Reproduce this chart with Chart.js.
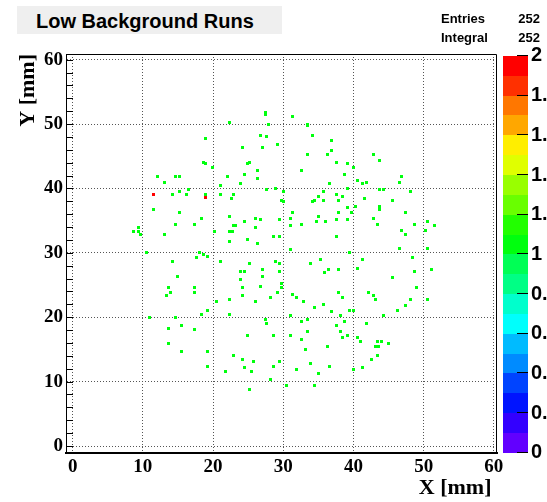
<!DOCTYPE html>
<html>
<head>
<meta charset="utf-8">
<script src="https://cdn.jsdelivr.net/npm/chart.js@4.4.1/dist/chart.umd.min.js"></script>
<style>
html,body{margin:0;padding:0;background:#fff;overflow:hidden;}
#wrap{position:relative;width:547px;height:502px;}
#c{position:absolute;left:0;top:0;}
.t{position:absolute;font-family:"Liberation Sans",Arial,sans-serif;font-weight:bold;color:#000;white-space:nowrap;}
#title{left:17px;top:6px;width:265px;height:28px;background:#efefef;font-size:20px;line-height:30px;text-indent:19px;}
.s{font-size:13px;line-height:13px;}
</style>
</head>
<body>
<div id="wrap">
<canvas id="c" width="547" height="502"></canvas>
<div id="title" class="t">Low Background Runs</div>
<div class="t s" style="left:441px;top:12px;">Entries</div>
<div class="t s" id="entries" style="right:7px;top:12px;"></div>
<div class="t s" style="left:441px;top:31px;">Integral</div>
<div class="t s" id="integral" style="right:7px;top:31px;"></div>
</div>
<script>
// ---- data: bins with one entry (X, Y in mm) ----
const cellX = [
 18.9,18.7,18.9,19.9,12.1,14.7,15.2,22.1,13.1,21.1,15.2,16.5,14.2,16.2,18.9,21.1,11.5,15.2,18.4,14.7,17.4,9.4,8.7,9.4,9.7,13.1,20.2,10.5,18.1,18.7,19.2,17.7,14.2,21.1,
 27.4,27.4,31.3,22.4,27.9,33.5,33.5,26.8,27.6,34.2,36.9,29.2,24.2,27.1,36.9,33.5,36.3,42.9,43.7,25.2,24.9,37.6,39.2,40.0,26.4,32.6,24.5,38.7,46.9,26.4,40.6,41.9,41.3,46.6,23.9,36.6,27.6,28.9,30.1,35.8,39.2,43.7,44.3,48.1,22.9,22.6,37.6,38.5,35.0,41.6,29.8,30.1,34.2,34.5,35.8,37.9,45.6,40.3,43.7,43.7,39.2,31.3,37.9,39.7,47.4,22.4,35.0,26.1,26.8,29.5,31.1,37.6,39.2,42.9,24.5,34.8,36.0,50.6,22.9,23.2,26.1,31.1,32.6,43.4,48.7,51.6,22.4,22.7,46.9,50.3,47.4,28.6,29.5,37.6,24.9,22.4,26.4,31.1,39.5,46.6,50.6,48.4,41.3,28.9,29.5,33.9,35.3,40.6,25.2,
 23.9,24.5,15.0,23.9,13.7,17.4,24.2,14.0,17.4,13.4,24.2,20.5,22.4,19.2,18.4,22.4,11.0,14.7,13.7,15.5,17.4,24.9,13.7,15.5,19.2,22.9,24.2,19.2,24.5,21.8,
 27.1,29.5,35.9,36.4,37.9,48.7,51.1,27.1,26.8,29.8,29.8,45.6,49.0,29.2,37.9,42.2,42.9,31.3,28.2,31.9,38.5,43.2,48.1,50.6,26.1,32.9,35.8,47.4,34.5,36.9,39.5,40.0,46.3,27.4,27.6,31.1,33.5,38.2,44.3,32.6,38.7,41.9,37.6,28.6,31.1,33.5,38.2,38.5,39.2,40.6,41.0,43.4,44.0,45.0,32.6,43.2,43.5,36.3,33.2,43.4,25.8,42.6,29.5,28.6,33.9,36.6,31.9,25.5,35.0,40.0,41.3,28.2,30.5,34.5,25.2
];
const cellY = [
 47.8,44.1,43.8,43.2,41.9,41.9,41.9,41.9,41.0,40.4,39.5,39.8,39.1,39.1,39.1,39.1,36.7,36.3,35.4,34.4,34.4,33.9,33.3,33.3,32.9,32.9,33.3,30.1,30.1,29.8,29.5,29.2,28.6,28.6,
 51.5,51.8,51.1,50.2,50.0,49.7,50.0,48.3,48.1,48.3,47.4,46.9,46.3,46.4,45.9,45.3,45.3,45.3,44.4,44.1,43.8,44.1,43.8,43.2,42.8,42.8,42.2,42.2,41.9,41.6,41.3,41.0,40.7,41.0,40.7,40.7,39.8,40.0,39.5,39.5,40.0,39.8,39.8,39.5,39.1,38.5,39.1,38.8,38.8,38.5,38.2,37.9,37.9,38.2,38.2,38.2,38.2,37.2,37.2,36.7,37.0,36.3,36.3,36.3,36.3,35.7,35.7,35.4,35.1,35.1,35.4,35.1,35.1,35.4,34.8,34.8,34.8,34.8,34.2,34.2,33.9,34.2,34.4,34.4,34.4,34.2,33.3,33.3,33.5,33.5,32.9,32.6,32.6,32.6,32.0,31.7,31.4,30.5,30.1,30.7,30.7,29.2,28.9,28.6,28.3,28.3,28.9,27.6,28.3,
 27.1,27.1,26.4,25.8,24.6,24.6,24.6,23.9,23.9,23.3,23.3,22.4,22.7,21.1,20.5,20.5,19.9,19.9,18.3,18.7,18.1,17.1,15.9,14.6,14.6,14.0,13.4,12.4,12.2,11.5,
 27.4,27.1,27.0,27.4,27.4,27.1,27.4,26.4,24.8,25.2,24.6,26.1,24.6,23.9,23.9,23.9,23.3,23.6,23.0,23.0,23.0,22.7,22.7,22.7,22.4,22.4,22.0,21.8,21.5,20.9,21.1,21.1,21.1,19.6,19.0,20.2,19.6,20.2,20.2,19.3,19.3,19.0,18.7,17.1,17.1,17.8,17.8,16.8,17.1,16.8,16.2,16.2,16.2,15.9,16.5,15.5,15.5,15.5,15.0,14.0,13.1,13.4,13.1,12.4,12.8,12.4,11.9,11.5,11.2,11.9,12.2,10.3,9.4,9.4,8.7
];
// bins with two entries
const cell2X = [11.5, 18.9];
const cell2Y = [39.1, 38.6];

const ENTRIES = 252;
const INTEGRAL = 252;

const X_TICKS = [0,10,20,30,40,50,60];
const Y_TICKS = [0,10,20,30,40,50,60];
const Y_MINOR = [0,2,4,6,8,10,12,14,16,18,20,22,24,26,28,30,32,34,36,38,40,42,44,46,48,50,52,54,56,58,60];
const Z_TICKS = [0,0.2,0.4,0.6,0.8,1,1.2,1.4,1.6,1.8,2];
const Z_LEVELS = [0,0.1,0.2,0.3,0.4,0.5,0.6,0.7,0.8,0.9,1.0,1.1,1.2,1.3,1.4,1.5,1.6,1.7,1.8,1.9,2.0];
const PALETTE = ['#6200ff','#3300ff','#0014ff','#0044ff','#008bff','#00bbff','#00fffc','#00ffcc','#00ff85','#00ff55',
                 '#00ff0e','#22ff00','#69ff00','#99ff00','#e0ff00','#ffee00','#ffa700','#ff7700','#ff3000','#ff0000'];

document.getElementById('entries').textContent = ENTRIES;
document.getElementById('integral').textContent = INTEGRAL;

function cellImage(color){
  const c = document.createElement('canvas');
  c.width = 3; c.height = 3;
  const g = c.getContext('2d');
  g.fillStyle = color; g.fillRect(0,0,3,3);
  return c;
}
const ones = cellX.map((x,i)=>({x:x, y:cellY[i]}));
const twos = cell2X.map((x,i)=>({x:x, y:cell2Y[i]}));

const serif = 'Liberation Serif';
const sans = 'Liberation Sans';

const decor = {
  id:'decor',
  beforeDatasetsDraw(chart){ chart.ctx.imageSmoothingEnabled = false; },
  afterDraw(chart){
    const {ctx, chartArea:a, scales} = chart;
    const y = scales.y, z = scales.z;
    ctx.save();
    ctx.imageSmoothingEnabled = true;
    ctx.strokeStyle = '#000'; ctx.lineWidth = 1; ctx.setLineDash([]);
    ctx.beginPath();
    const top = Math.round(a.top)+0.5, right = Math.round(a.right)-0.5;
    ctx.moveTo(a.left, top); ctx.lineTo(right, top); ctx.lineTo(right, a.bottom);
    Y_MINOR.forEach(v=>{
      const py = Math.round(y.getPixelForValue(v))+0.5;
      ctx.moveTo(a.left, py); ctx.lineTo(a.left+7, py);
    });
    ctx.stroke();
    // palette
    const x0 = Math.round(z.left)+6, w = 25;
    PALETTE.forEach((c,k)=>{
      const y0 = Math.round(z.getPixelForValue(Z_LEVELS[k]));
      const y1 = Math.round(z.getPixelForValue(Z_LEVELS[k+1]));
      ctx.fillStyle = c;
      ctx.fillRect(x0, y1, w, y0-y1);
    });
    ctx.beginPath();
    Z_TICKS.forEach(v=>{
      const py = Math.round(z.getPixelForValue(v))-0.5;
      ctx.moveTo(x0+w-11, py); ctx.lineTo(x0+w, py);
    });
    ctx.stroke();
    ctx.restore();
  }
};

new Chart(document.getElementById('c'), {
  type:'scatter',
  data:{datasets:[
    {label:'1', data:ones, pointStyle:cellImage(PALETTE[10]), pointRadius:2, pointHoverRadius:2},
    {label:'2', data:twos, pointStyle:cellImage(PALETTE[19]), pointRadius:2, pointHoverRadius:2}
  ]},
  options:{
    responsive:false, animation:false, devicePixelRatio:1,
    layout:{padding:{top:54,left:0,right:0,bottom:0}},
    plugins:{legend:{display:false}, tooltip:{enabled:false}},
    events:[],
    scales:{
      x:{type:'linear', position:'bottom', min:-0.95, max:60.45,
         afterBuildTicks:s=>{ s.ticks = X_TICKS.map(v=>({value:v})); },
         afterFit:s=>{ s.height = 49.3; },
         ticks:{font:{family:serif, weight:'bold', size:19}, color:'#000', padding:3, maxRotation:0, autoSkip:false, callback:v=>String(v)},
         grid:{color:'#555', drawTicks:false, lineWidth:1},
         border:{display:true, color:'#000', width:2, dash:[1,2]},
         title:{display:true, text:'X [mm] ', align:'end', color:'#000', font:{family:serif, weight:'bold', size:22}, padding:{top:0,bottom:0}}
      },
      y:{type:'linear', position:'left', min:-1.04, max:60.88,
         afterBuildTicks:s=>{ s.ticks = Y_TICKS.map(v=>({value:v})); },
         afterFit:s=>{ s.width = 66; },
         ticks:{font:{family:serif, weight:'bold', size:19}, color:'#000', padding:3, autoSkip:false, callback:v=>String(v)},
         grid:{color:'#555', drawTicks:false, lineWidth:1},
         border:{display:true, color:'#000', width:1, dash:[1,2]},
         title:{display:true, text:'Y [mm]', align:'end', color:'#000', font:{family:serif, weight:'bold', size:22}, padding:{top:15,bottom:0}}
      },
      z:{type:'linear', position:'right', min:0, max:2.01,
         afterBuildTicks:s=>{ s.ticks = Z_TICKS.map(v=>({value:v})); },
         afterFit:s=>{ s.width = 50; },
         ticks:{font:{family:sans, weight:'bold', size:20}, color:'#000', padding:34, autoSkip:false, callback:v=>String(v)},
         grid:{display:false, drawOnChartArea:false, drawTicks:false},
         border:{display:false}
      }
    }
  },
  plugins:[decor]
});
</script>
</body>
</html>
